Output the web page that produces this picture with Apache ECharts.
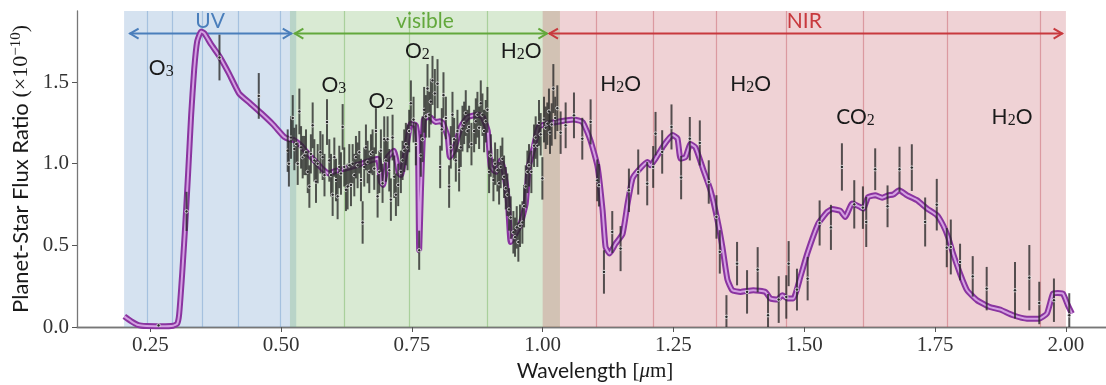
<!DOCTYPE html>
<html><head><meta charset="utf-8">
<script src="https://cdn.jsdelivr.net/npm/echarts@6/dist/echarts.min.js"></script>
<style>html,body{margin:0;padding:0;background:#fff}#c{width:1106px;height:385px}</style>
</head><body><div id="c"></div>
<script>
// ---------------- DATA ----------------
const xTicks = [0.25, 0.50, 0.75, 1.00, 1.25, 1.50, 1.75, 2.00];
const yTicks = [0.0, 0.5, 1.0, 1.5];

const bandNames = ['UV', 'visible', 'NIR'];
const bandStart = [0.200, 0.517, 1.000];
const bandEnd   = [0.529, 1.033, 2.000];
const arrowStart = [0.2105, 0.5254, 1.0120];
const arrowEnd   = [0.5204, 1.0090, 1.9937];
const uvLines  = [0.2437, 0.2914, 0.3487, 0.4174, 0.4987];
const visLines = [0.6202, 0.7448, 0.8928];
const nirLines = [1.1020, 1.2118, 1.3320, 1.4656, 1.6116, 1.7723, 1.9500];

const molLabels = ['O_3', 'O_3', 'O_2', 'O_2', 'H_2O', 'H_2O', 'H_2O', 'CO_2', 'H_2O'];
const molWl     = [0.271, 0.601, 0.691, 0.7605, 0.959, 1.149, 1.3975, 1.598, 1.897];
const molFlux   = [1.584, 1.480, 1.382, 1.688, 1.688, 1.486, 1.486, 1.284, 1.284];

const modelWl = [0.2004,0.2137,0.2271,0.2424,0.2710,0.2939,0.3015,0.3053,0.3111,0.3168,0.3225,0.3282,0.3340,0.3397,0.3473,0.3531,0.3664,0.3817,0.4008,0.4198,0.4408,0.4618,0.4847,0.5057,0.5153,0.5248,0.5382,0.5515,0.5668,0.5802,0.5916,0.6031,0.6164,0.6279,0.6431,0.6584,0.6718,0.6851,0.6908,0.6947,0.7004,0.7042,0.7156,0.7252,0.7290,0.7385,0.7481,0.7576,0.7615,0.7640,0.7672,0.7729,0.7824,0.7958,0.8034,0.8092,0.8187,0.8225,0.8302,0.8435,0.8569,0.8760,0.8855,0.8950,0.9008,0.9103,0.9198,0.9256,0.9332,0.9389,0.9447,0.9580,0.9676,0.9733,0.9828,0.9924,1.0095,1.0344,1.0592,1.0763,1.0916,1.1050,1.1145,1.1202,1.1279,1.1393,1.1527,1.1622,1.1718,1.1832,1.2004,1.2061,1.2156,1.2309,1.2481,1.2576,1.2634,1.2729,1.2824,1.2920,1.3073,1.3206,1.3340,1.3435,1.3531,1.3626,1.3779,1.4027,1.4256,1.4351,1.4485,1.4580,1.4676,1.4790,1.4924,1.5057,1.5267,1.5439,1.5534,1.5687,1.5782,1.5916,1.6069,1.6126,1.6221,1.6355,1.6489,1.6603,1.6698,1.6813,1.6966,1.7156,1.7347,1.7538,1.7653,1.7748,1.7844,1.7977,1.8111,1.8302,1.8550,1.8740,1.8989,1.9256,1.9485,1.9637,1.9752,1.9847,1.9943,2.0038,2.0115];
const modelFlux = [0.065,0.035,0.012,0.006,0.005,0.008,0.020,0.080,0.330,0.620,0.950,1.300,1.580,1.750,1.810,1.800,1.730,1.660,1.550,1.430,1.370,1.310,1.240,1.165,1.150,1.145,1.110,1.060,1.010,0.965,0.940,0.955,0.965,0.975,0.990,1.005,1.020,1.030,0.890,0.870,0.960,1.040,1.080,0.940,0.930,1.080,1.245,1.235,1.140,0.470,0.820,1.270,1.290,1.255,1.260,1.250,1.160,1.040,1.080,1.225,1.285,1.300,1.285,1.200,0.980,0.950,1.020,0.960,0.780,0.520,0.550,0.635,0.755,0.980,1.100,1.225,1.245,1.260,1.270,1.255,1.140,0.980,0.715,0.490,0.450,0.510,0.570,0.755,0.910,0.960,1.010,0.990,1.030,1.110,1.175,1.155,1.030,1.040,1.120,1.100,0.960,0.840,0.655,0.490,0.290,0.225,0.215,0.225,0.215,0.175,0.168,0.195,0.175,0.175,0.305,0.450,0.633,0.705,0.722,0.712,0.674,0.756,0.735,0.725,0.796,0.806,0.792,0.806,0.811,0.837,0.806,0.776,0.725,0.684,0.623,0.551,0.449,0.327,0.225,0.164,0.122,0.107,0.072,0.051,0.051,0.082,0.204,0.208,0.204,0.133,0.082];

// observations: [wavelength, flux, error]
const uvPoints = [[0.2659,0.010,0.010],[0.3194,0.708,0.120],[0.3823,1.650,0.140],[0.4574,1.415,0.140]];
const visPoints = [
[0.5127,1.08,0.13],[0.5150,1.00,0.14],[0.5190,1.16,0.13],[0.5223,1.28,0.14],[0.5254,1.09,0.13],[0.5290,1.12,0.12],
[0.5318,1.00,0.13],[0.5350,1.32,0.14],[0.5382,1.10,0.13],[0.5413,1.04,0.13],[0.5445,1.05,0.12],[0.5477,1.07,0.14],
[0.5510,0.95,0.13],[0.5541,0.86,0.13],[0.5570,1.06,0.12],[0.5604,1.235,0.14],[0.5636,1.02,0.13],[0.5668,0.89,0.13],
[0.5700,1.00,0.12],[0.5751,1.07,0.13],[0.5795,1.04,0.14],[0.5830,0.93,0.13],[0.5878,1.255,0.14],[0.5922,1.02,0.13],
[0.5955,0.93,0.13],[0.5986,0.81,0.13],[0.6018,1.04,0.12],[0.6050,0.90,0.13],[0.6081,0.80,0.14],[0.6113,0.98,0.13],
[0.6145,0.94,0.13],[0.6177,1.225,0.14],[0.6208,0.98,0.12],[0.6240,0.84,0.13],[0.6272,0.86,0.14],[0.6304,0.99,0.13],
[0.6336,0.87,0.13],[0.6368,1.00,0.12],[0.6400,0.93,0.13],[0.6431,1.04,0.13],[0.6463,0.99,0.14],[0.6495,1.07,0.13],
[0.6527,0.90,0.13],[0.6559,0.64,0.13],[0.6590,0.98,0.12],[0.6622,1.10,0.14],[0.6654,1.01,0.13],[0.6686,0.95,0.13],
[0.6718,1.06,0.12],[0.6749,1.07,0.14],[0.6781,0.97,0.13],[0.6813,1.20,0.14],[0.6845,0.80,0.13],[0.6877,0.95,0.13],
[0.6908,1.08,0.13],[0.6940,0.88,0.12],[0.6972,1.15,0.14],[0.7004,1.02,0.13],[0.7036,1.15,0.14],[0.7068,0.96,0.13],
[0.7099,0.78,0.13],[0.7131,1.16,0.14],[0.7163,0.92,0.13],[0.7195,0.81,0.13],[0.7239,0.87,0.13],[0.7290,0.95,0.13],
[0.7322,1.02,0.12],[0.7354,1.08,0.13],[0.7385,1.12,0.13],[0.7417,1.10,0.14],[0.7449,1.20,0.13],[0.7481,1.37,0.14],
[0.7532,1.27,0.14],[0.7576,1.12,0.13],[0.7640,0.47,0.12],[0.7672,1.05,0.13],[0.7704,1.15,0.14],[0.7735,1.33,0.14],
[0.7767,1.29,0.13],[0.7799,1.46,0.15],[0.7831,1.30,0.14],[0.7862,1.38,0.14],[0.7894,1.51,0.15],[0.7939,1.43,0.15],
[0.7990,1.49,0.15],[0.8041,0.98,0.13],[0.8072,1.21,0.13],[0.8104,1.42,0.14],[0.8150,1.28,0.13],[0.8212,0.86,0.13],
[0.8244,1.10,0.13],[0.8276,1.30,0.14],[0.8308,1.15,0.13],[0.8340,1.02,0.13],[0.8371,1.20,0.13],[0.8403,0.96,0.13],
[0.8435,1.10,0.12],[0.8467,1.215,0.14],[0.8499,1.25,0.13],[0.8530,1.31,0.14],[0.8562,1.20,0.13],[0.8594,1.225,0.13],
[0.8639,1.12,0.13],[0.8690,1.20,0.13],[0.8722,1.26,0.14],[0.8753,1.30,0.14],[0.8785,1.22,0.13],[0.8817,1.37,0.14],
[0.8849,1.30,0.13],[0.8880,1.20,0.13],[0.8912,1.26,0.13],[0.8944,1.33,0.14],[0.8976,0.95,0.13],[0.9008,1.05,0.13],
[0.9059,0.90,0.13],[0.9090,1.00,0.13],[0.9135,0.96,0.13],[0.9167,0.88,0.13],[0.9198,0.98,0.13],[0.9230,1.03,0.13],
[0.9262,0.92,0.13],[0.9294,0.85,0.13],[0.9326,0.81,0.13],[0.9357,0.72,0.13],[0.9389,0.67,0.13],[0.9440,0.58,0.13],
[0.9472,0.55,0.12],[0.9504,0.61,0.13],[0.9535,0.52,0.12],[0.9567,0.62,0.13],[0.9612,0.64,0.13],[0.9644,0.74,0.13],
[0.9676,0.86,0.13],[0.9708,0.95,0.13],[0.9739,0.99,0.13],[0.9784,0.95,0.13],[0.9835,1.11,0.13],[0.9866,1.16,0.13],
[0.9898,1.11,0.13],[0.9930,1.25,0.14],[0.9962,1.18,0.13],[0.9994,0.91,0.13],[1.0025,1.27,0.14],[1.0057,1.22,0.13],
[1.0089,1.245,0.13],[1.0120,1.32,0.14],[1.0140,1.19,0.13],[1.0172,1.24,0.13],[1.0204,1.46,0.15],[1.0240,1.28,0.13],
[1.0280,1.34,0.14],[1.0343,1.19,0.13],[1.0439,1.235,0.14],[1.0598,1.296,0.14]];
const nirPoints = [
[1.0757,1.153,0.128],[1.0916,1.256,0.138],[1.1043,0.898,0.128],[1.1075,0.868,0.130],[1.1171,0.337,0.133],
[1.1330,0.582,0.128],[1.1489,0.480,0.138],[1.1648,0.837,0.133],[1.1826,0.949,0.138],[1.1998,0.878,0.133],
[1.2112,0.980,0.128],[1.2157,1.184,0.133],[1.2284,1.072,0.133],[1.2462,1.225,0.138],[1.2646,0.915,0.133],
[1.2812,1.153,0.133],[1.3003,1.127,0.138],[1.3174,0.888,0.133],[1.3321,0.674,0.133],[1.3385,0.460,0.133],
[1.3512,0.062,0.133],[1.3715,0.388,0.133],[1.3906,0.215,0.133],[1.4109,0.351,0.138],[1.4307,0.072,0.130],
[1.4511,0.168,0.143],[1.4656,0.184,0.133],[1.4701,0.388,0.138],[1.4860,0.229,0.128],[1.5064,0.296,0.133],
[1.5293,0.637,0.138],[1.5509,0.610,0.138],[1.5719,0.980,0.145],[1.5955,0.751,0.148],[1.6120,0.731,0.130],
[1.6184,0.643,0.153],[1.6355,0.966,0.128],[1.6591,0.739,0.128],[1.6820,0.966,0.138],[1.7055,0.976,0.143],
[1.7310,0.643,0.150],[1.7532,0.749,0.158],[1.7723,0.486,0.120],[1.7800,0.490,0.168],[1.7977,0.398,0.112],
[1.8219,0.310,0.124],[1.8486,0.235,0.133],[1.9027,0.225,0.173],[1.9301,0.302,0.200],[1.9491,0.147,0.130],
[1.9771,0.164,0.133],[2.0064,0.072,0.135]];

// ---------------- STYLE / LAYOUT ----------------
const X_MIN = 0.11, X_MAX = 2.09, Y_MIN = 0, Y_MAX = 1.935;
const ARROW_V = 1.797, BAND_LABEL_V = 1.872;
const bandFill  = ['rgba(87,139,195,0.25)', 'rgba(103,171,79,0.25)', 'rgba(191,75,87,0.25)'];
const bandLine  = ['rgba(87,139,195,0.38)', 'rgba(103,171,79,0.42)', 'rgba(191,75,87,0.42)'];
const bandColor = ['#4a7ebb', '#63a83c', '#c8393e'];
const bandLines = [uvLines, visLines, nirLines];
const SANS = 'Lato, "Open Sans", sans-serif';
const SERIF = '"Liberation Serif", "DejaVu Serif", serif';

const modelData = modelWl.map((w, i) => [w, modelFlux[i]]);
const allPoints = uvPoints.concat(visPoints, nirPoints);

function renderBands(params, api) {
  const i = params.dataIndex;
  const p0 = api.coord([bandStart[i], Y_MAX]);
  const p1 = api.coord([bandEnd[i], Y_MIN]);
  const children = [{
    type: 'rect',
    shape: { x: p0[0], y: p0[1], width: p1[0] - p0[0], height: p1[1] - p0[1] },
    style: { fill: bandFill[i] }
  }];
  bandLines[i].forEach(w => {
    const x = Math.round(api.coord([w, 0])[0]) + 0.5;
    children.push({ type: 'line', shape: { x1: x, y1: p0[1], x2: x, y2: p1[1] },
      style: { stroke: bandLine[i], lineWidth: 1.2 } });
  });
  return { type: 'group', children };
}

function renderArrows(params, api) {
  const i = params.dataIndex;
  const a = api.coord([arrowStart[i], ARROW_V]);
  const b = api.coord([arrowEnd[i], ARROW_V]);
  const L = 9, H = 5;
  const st = { stroke: bandColor[i], lineWidth: 2, fill: null, lineJoin: 'miter' };
  const c = api.coord([(bandStart[i] + bandEnd[i]) / 2, BAND_LABEL_V]);
  return { type: 'group', children: [
    { type: 'line', shape: { x1: a[0], y1: a[1], x2: b[0], y2: b[1] }, style: st },
    { type: 'polyline', shape: { points: [[a[0] + L, a[1] - H], [a[0] + 0.5, a[1]], [a[0] + L, a[1] + H]] }, style: st },
    { type: 'polyline', shape: { points: [[b[0] - L, b[1] - H], [b[0] - 0.5, b[1]], [b[0] - L, b[1] + H]] }, style: st },
    { type: 'text', x: c[0], y: c[1], style: { text: bandNames[i], fill: bandColor[i],
      font: '21px ' + SANS, align: 'center', verticalAlign: 'middle' } }
  ]};
}

function renderMol(params, api) {
  const i = params.dataIndex;
  const c = api.coord([molWl[i], molFlux[i]]);
  const txt = '{m|' + molLabels[i].replace(/_(\d)/g, '}{s|$1}{m|') + '}';
  return { type: 'text', x: c[0], y: c[1], style: {
    text: txt, align: 'center', verticalAlign: 'middle',
    rich: {
      m: { fontSize: 21, fontFamily: SANS, fill: '#1a1a1a', lineHeight: 22 },
      s: { fontSize: 16, fontFamily: SERIF, fill: '#1a1a1a', lineHeight: 10, verticalAlign: 'bottom' }
    } } };
}

function renderErr(params, api) {
  const w = api.value(0), v = api.value(1), e = api.value(2);
  const t = api.coord([w, v + e]), b = api.coord([w, v - e]), c = api.coord([w, v]);
  return { type: 'group', children: [
    { type: 'line', shape: { x1: t[0], y1: t[1], x2: b[0], y2: b[1] },
      style: { stroke: 'rgba(40,40,40,0.78)', lineWidth: 2 } },
    { type: 'circle', shape: { cx: c[0], cy: c[1], r: 1.7 },
      style: { fill: '#2a2a2a', stroke: 'rgba(255,255,255,0.8)', lineWidth: 0.9 } }
  ]};
}

const chart = echarts.init(document.getElementById('c'), null, { renderer: 'canvas' });
chart.setOption({
  animation: false,
  backgroundColor: '#fff',
  grid: { left: 77, right: -7, top: 11, bottom: 58, containLabel: false, outerBoundsMode: 'none' },
  xAxis: [{
    type: 'value', min: X_MIN, max: X_MAX,
    name: '{a|Wavelength }{b|[}{c|μ}{b|m]}', nameLocation: 'middle', nameGap: 34,
    nameTextStyle: { rich: {
      a: { fontFamily: SANS, fontSize: 21, color: '#1a1a1a' },
      b: { fontFamily: SERIF, fontSize: 21, color: '#1a1a1a' },
      c: { fontFamily: SERIF, fontSize: 21, fontStyle: 'italic', color: '#1a1a1a' } } },
    axisLine: { show: true, onZero: false, lineStyle: { color: '#777', width: 1.3 } },
    axisTick: { show: true, length: 5, inside: false, customValues: xTicks, lineStyle: { color: '#555', width: 1 } },
    axisLabel: { customValues: xTicks, margin: 8, formatter: v => v.toFixed(2),
      fontFamily: SERIF, fontSize: 21, color: '#333' },
    splitLine: { show: false }
  }, {
    type: 'value', position: 'top', min: X_MIN, max: X_MAX,
    axisLine: { show: true, lineStyle: { color: '#777', width: 1.3 } },
    axisTick: { show: false }, axisLabel: { show: false }, splitLine: { show: false }
  }],
  yAxis: [{
    type: 'value', min: Y_MIN, max: Y_MAX,
    name: '{a|Planet-Star Flux Ratio }{b|(×10}{c|−10}{b|)}', nameLocation: 'middle', nameGap: 40, nameRotate: 90,
    nameTextStyle: { rich: {
      a: { fontFamily: SANS, fontSize: 22, color: '#1a1a1a', lineHeight: 24 },
      b: { fontFamily: SERIF, fontSize: 22, color: '#1a1a1a', lineHeight: 24 },
      c: { fontFamily: SERIF, fontSize: 15, color: '#1a1a1a', lineHeight: 14, verticalAlign: 'top' } } },
    axisLine: { show: true, lineStyle: { color: '#777', width: 1.3 } },
    axisTick: { show: true, length: 5, inside: false, customValues: yTicks, lineStyle: { color: '#555', width: 1 } },
    axisLabel: { customValues: yTicks, margin: 8, formatter: v => v.toFixed(1),
      fontFamily: SERIF, fontSize: 21, color: '#333' },
    splitLine: { show: false }
  }],
  series: [
    { type: 'custom', name: 'bands', renderItem: renderBands, data: bandNames.map((n, i) => [bandStart[i], bandEnd[i]]), z: 1, silent: true },
    { type: 'custom', name: 'arrows', renderItem: renderArrows, data: bandNames.map((n, i) => [arrowStart[i], arrowEnd[i]]), z: 2, silent: true },
    { type: 'custom', name: 'molecules', renderItem: renderMol, data: molWl.map((w, i) => [w, molFlux[i]]), z: 3, silent: true },
    { type: 'line', name: 'model-outer', data: modelData, showSymbol: false, smooth: 0.15, z: 4,
      lineStyle: { color: '#8a34a0', width: 6 }, silent: true },
    { type: 'line', name: 'model-inner', data: modelData, showSymbol: false, smooth: 0.15, z: 5,
      lineStyle: { color: '#d4a0e2', width: 2 }, silent: true },
    { type: 'custom', name: 'obs', renderItem: renderErr, data: allPoints, z: 6, clip: true, silent: true,
      encode: { x: 0, y: 1 } }
  ]
});
</script>
</body></html>
